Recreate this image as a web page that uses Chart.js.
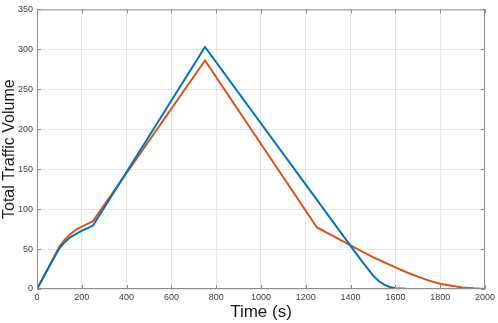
<!DOCTYPE html>
<html>
<head>
<meta charset="utf-8">
<script src="https://cdn.jsdelivr.net/npm/chart.js@4/dist/chart.umd.min.js"></script>
<style>
  html, body { margin: 0; padding: 0; background: #fff; }
  #wrap { width: 498px; height: 323px; position: relative; }
</style>
</head>
<body>
<div id="wrap"><canvas id="c"></canvas></div>
<script>
// series values (time in s, volume)
const blueT = [0, 50, 100, 125, 150, 175, 200, 225, 250, 750, 1400, 1450, 1500, 1525, 1550, 1575, 1600, 1650, 1700, 2000];
const blueV = [0, 26, 51, 59, 65, 69, 73, 76, 79.5, 303, 54, 35, 17, 10, 5.5, 2.5, 1, 0.2, 0, 0];
const orangeT = [0, 50, 100, 125, 150, 175, 200, 225, 250, 750, 1250, 1300, 1350, 1400, 1450, 1500, 1550, 1600, 1650, 1700, 1750, 1800, 1850, 1900, 1950, 2000];
const orangeV = [0, 26, 53, 62, 69, 74.5, 78, 81.5, 85, 286, 77, 69.5, 62, 54.5, 47, 40, 33.5, 27, 21, 15.5, 10.5, 6.5, 4, 2, 0.8, 0];
const xTicks = [0, 200, 400, 600, 800, 1000, 1200, 1400, 1600, 1800, 2000];
const yTicks = [0, 50, 100, 150, 200, 250, 300, 350];

const C = {
  blue:   "#0072BD",
  orange: "#D95319",
  grid:   "rgba(0,0,0,0.09)",
  axis:   "#8c8c8c",
  text:   "#404040",
};
const FONT = "'Liberation Sans', Arial, Helvetica, sans-serif";

const pts = (ts, vs) => ts.map((t, i) => ({ x: t, y: vs[i] }));

// MATLAB-like box with inward ticks on all four sides
const boxPlugin = {
  id: "box",
  afterDraw(chart) {
    const { ctx, chartArea: a, scales } = chart;
    ctx.save();
    ctx.strokeStyle = C.axis;
    ctx.lineWidth = 1;
    ctx.strokeRect(a.left + 0.5, a.top + 0.5, a.right - a.left - 1, a.bottom - a.top - 1);
    const L = 4;
    ctx.beginPath();
    for (const v of xTicks) {
      const x = Math.round(scales.x.getPixelForValue(v)) + 0.5;
      ctx.moveTo(x, a.bottom); ctx.lineTo(x, a.bottom - L);
      ctx.moveTo(x, a.top); ctx.lineTo(x, a.top + L);
    }
    for (const v of yTicks) {
      const y = Math.round(scales.y.getPixelForValue(v)) + 0.5;
      ctx.moveTo(a.left, y); ctx.lineTo(a.left + L, y);
      ctx.moveTo(a.right, y); ctx.lineTo(a.right - L, y);
    }
    ctx.stroke();
    ctx.restore();
  },
};

new Chart(document.getElementById("c"), {
  type: "line",
  data: {
    datasets: [
      {
        label: "A",
        data: pts(blueT, blueV),
        borderColor: C.blue,
        borderWidth: 2,
        pointRadius: 0,
        tension: 0,
        fill: false,
      },
      {
        label: "B",
        data: pts(orangeT, orangeV),
        borderColor: C.orange,
        borderWidth: 2,
        pointRadius: 0,
        tension: 0,
        fill: false,
      },
    ],
  },
  options: {
    responsive: true,
    maintainAspectRatio: false,
    animation: false,
    layout: { padding: { top: 4, right: 10, left: 0, bottom: 0 } },
    plugins: { legend: { display: false }, tooltip: { enabled: false } },
    scales: {
      x: {
        type: "linear",
        min: 0,
        max: 2000,
        afterBuildTicks: s => { s.ticks = xTicks.map(v => ({ value: v })); },
        afterFit: s => { s.height = 34; },
        ticks: { color: C.text, font: { family: FONT, size: 9 }, padding: 3, maxRotation: 0, callback: v => String(v) },
        grid: { color: C.grid, drawTicks: false },
        border: { display: false },
        title: { display: true, text: "Time (s)", color: "#1a1a1a", font: { family: FONT, size: 17 }, padding: { top: 0, bottom: 0 } },
      },
      y: {
        min: 0,
        max: 350,
        afterBuildTicks: s => { s.ticks = yTicks.map(v => ({ value: v })); },
        afterFit: s => { s.width = 37; },
        ticks: { color: C.text, font: { family: FONT, size: 9 }, padding: 4, callback: v => String(v) },
        grid: { color: C.grid, drawTicks: false },
        border: { display: false },
        title: { display: true, text: "Total Traffic Volume", color: "#1a1a1a", font: { family: FONT, size: 16 }, padding: { top: 0, bottom: 0 } },
      },
    },
  },
  plugins: [boxPlugin],
});
</script>
</body>
</html>
